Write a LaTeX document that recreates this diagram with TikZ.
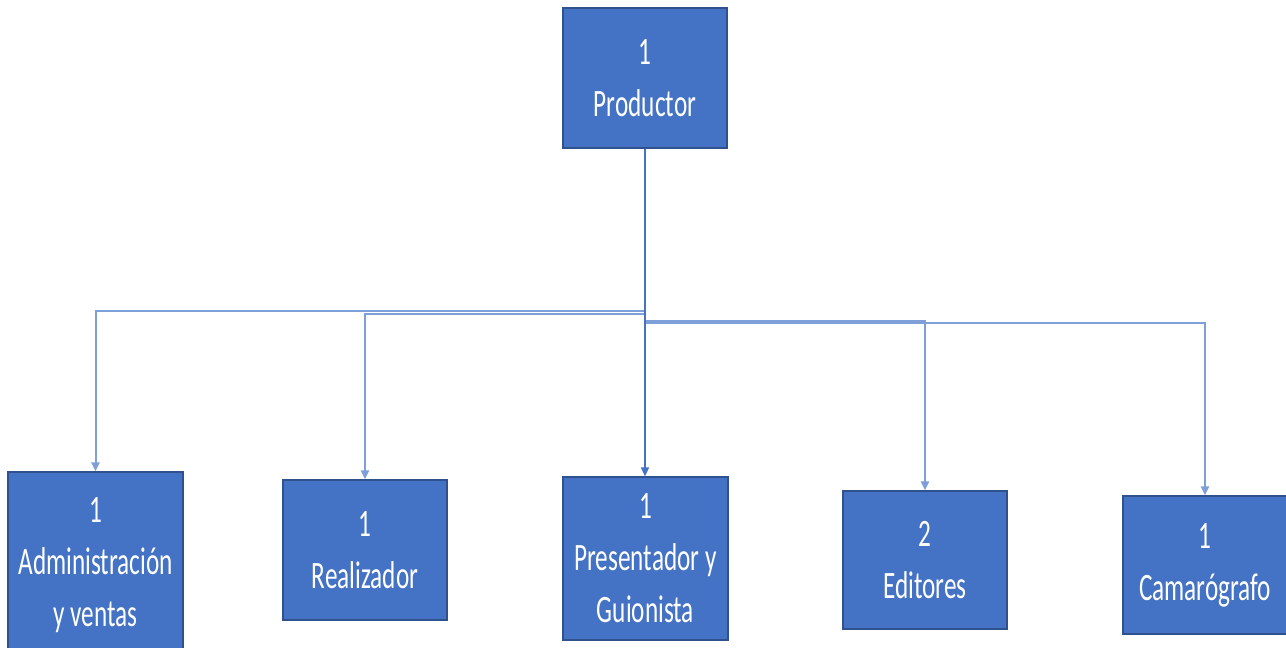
\documentclass[tikz,border=0pt]{standalone}
\usepackage{fontspec}
\setmainfont{Carlito}[FakeStretch=0.65]
\usetikzlibrary{arrows.meta}
\definecolor{boxblue}{HTML}{4472C4}
\definecolor{boxedge}{HTML}{2F528F}
\definecolor{linelight}{HTML}{7F9FD8}
\begin{document}
\begin{tikzpicture}[x=0.5pt,y=-0.5pt,
  box/.style={draw=boxedge, line width=0.6pt, fill=boxblue, text=white,
    font=\fontsize{19.4}{26}\selectfont, align=center, inner sep=0pt},
  conn/.style={draw=linelight, line width=1pt, -{Triangle[length=4.5pt,width=4pt]}},
  connmain/.style={draw=boxblue, line width=0.7pt, -{Triangle[length=4.5pt,width=4pt]}}]
\useasboundingbox (0,0) rectangle (1286,648);
\clip (0,0) rectangle (1286,648);
\node[box, minimum width=82pt, minimum height=70pt] (P) at (645,78) {1\\Productor};
\node[box, minimum width=87.5pt, minimum height=93pt] (A) at (95.5,565) {1\\Administración\\y ventas};
\node[box, minimum width=82pt, minimum height=70pt] (R) at (365,550) {1\\Realizador};
\node[box, minimum width=82.5pt, minimum height=81.5pt] (G) at (645.5,558.5) {1\\Presentador y\\Guionista};
\node[box, minimum width=82pt, minimum height=69pt] (E) at (925,560) {2\\Editores};
\node[box, minimum width=82pt, minimum height=69pt] (C) at (1205,565) {1\\Camarógrafo};
\coordinate (hA) at (645,311);
\coordinate (hR) at (645,314);
\coordinate (hE) at (645,321);
\coordinate (hC) at (645,323);
\draw[conn] (P.south) -- (P.south |- hA) -| (A.north);
\draw[conn] (P.south) -- (P.south |- hR) -| (R.north);
\draw[conn] (P.south) -- (P.south |- hE) -| (E.north);
\draw[conn] (P.south) -- (P.south |- hC) -| (C.north);
\draw[connmain] (P.south) -- (P.south |- G.north);
\end{tikzpicture}
\end{document}
